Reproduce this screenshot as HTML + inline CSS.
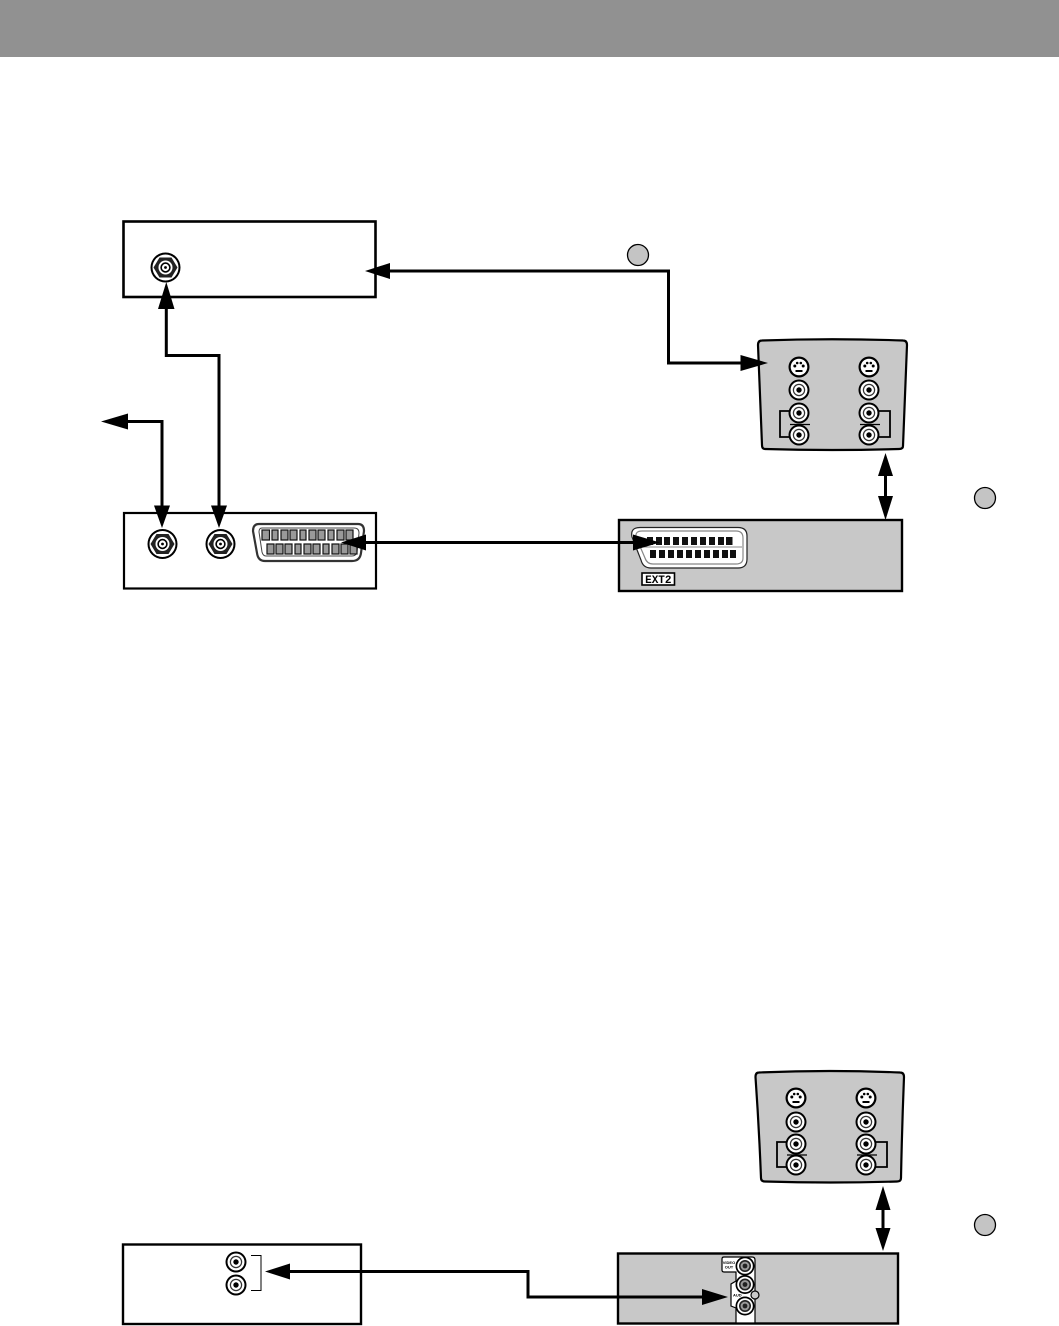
<!DOCTYPE html>
<html><head><meta charset="utf-8"><style>
html,body{margin:0;padding:0;background:#fff}
svg{display:block}
</style></head><body>
<svg width="1059" height="1326" viewBox="0 0 1059 1326" xmlns="http://www.w3.org/2000/svg">
<defs>
<g id="rca"><circle r="10.5" fill="#000"/><circle r="8.5" fill="#fff"/><circle r="6.2" fill="#333"/><circle r="5" fill="#fff"/><circle r="2.7" fill="#000"/></g>
<g id="rcag"><circle r="9.500" fill="#000"/><circle r="7.800" fill="#fff"/><circle r="6" fill="#222"/><circle r="4.400" fill="#999"/><circle r="2.400" fill="#222"/></g>
<g id="sv"><circle r="10.5" fill="#000"/><circle r="8.300" fill="#fff"/><circle cx="-4.200" cy="-1" r="1.500" fill="#000"/><circle cx="4.200" cy="-1" r="1.500" fill="#000"/><circle cx="-1.800" cy="-4" r="1.300" fill="#000"/><circle cx="1.800" cy="-4" r="1.300" fill="#000"/><rect x="-3.500" y="3" width="7" height="2" fill="#000"/></g>
<g id="coax"><circle r="15" fill="#000"/><circle r="13" fill="#fff"/><polygon points="-12,0 -6,-10 6,-10 12,0 6,10 -6,10" fill="#222"/><circle r="7" fill="#fff"/><circle r="5.2" fill="#000"/><circle r="3.6" fill="#fff"/><circle r="1.4" fill="#000"/></g>
<g id="tvjacks">
<use href="#sv" y="0"/><use href="#rca" y="23"/><use href="#rca" y="46"/><use href="#rca" y="68"/>
</g>
</defs>

<rect x="0" y="0" width="1059" height="57" fill="#919191"/>

<!-- top box -->
<rect x="123.500" y="221.500" width="252" height="75.500" fill="#fff" stroke="#000" stroke-width="2.600"/>
<use href="#coax" x="165.500" y="267.500"/>

<!-- bottom-left box -->
<rect x="124" y="513" width="252" height="75.500" fill="#fff" stroke="#000" stroke-width="2.200"/>
<use href="#coax" x="162.500" y="544"/>
<use href="#coax" x="220.500" y="544"/>
<path d="M259,524 H358 Q364,524 364,531 L361,553 Q360,561 352,561 H265 Q258,561 257,553 L253,531 Q253,524 259,524 Z" fill="#fff" stroke="#333" stroke-width="2.200"/>
<path d="M262,528 H354 Q359,528 359,533 L357,552 Q356,556 352,556 H266 Q263,556 262,552 L259,532 Q259,528 262,528 Z" fill="#fff" stroke="#444" stroke-width="1"/>
<g fill="#999" stroke="#111" stroke-width="1.200">
<rect x="262" y="530" width="7.500" height="10"/><rect x="272" y="530" width="6" height="10"/><rect x="281" y="530" width="7" height="10"/><rect x="290" y="530" width="7" height="10"/><rect x="300" y="530" width="6" height="10"/><rect x="309" y="530" width="7" height="10"/><rect x="318" y="530" width="7" height="10"/><rect x="328" y="530" width="6" height="10"/><rect x="337" y="530" width="7" height="10"/><rect x="346" y="530" width="7" height="10"/>
<rect x="267" y="544" width="7" height="10"/><rect x="276" y="544" width="7" height="10"/><rect x="285" y="544" width="7" height="10"/><rect x="295" y="544" width="6" height="10"/><rect x="304" y="544" width="7" height="10"/><rect x="313" y="544" width="7" height="10"/><rect x="323" y="544" width="6" height="10"/><rect x="332" y="544" width="7" height="10"/><rect x="341" y="544" width="7" height="10"/><rect x="350" y="544" width="7" height="10"/>
</g>

<!-- top TV panel -->
<path d="M762,340.500 Q832,338 903,340.500 Q907,340.500 907,345 Q905,395 903,446 Q903,449 899,449 Q832,451 765,449 Q762,449 762,445 Q760,395 758,345 Q758,340.500 762,340.500 Z" fill="#c8c8c8" stroke="#000" stroke-width="2.200"/>
<g fill="none" stroke="#000" stroke-width="1.800">
<path d="M790,411 H780 V437 H790"/><path d="M879,411 H890 V437 H879"/>
</g>
<path d="M790,424.500 H810 M860,424.500 H880" stroke="#000" stroke-width="1.200"/>
<use href="#tvjacks" x="799" y="367"/>
<use href="#tvjacks" x="869" y="367"/>

<!-- VCR box top right -->
<rect x="619" y="520" width="283" height="71" fill="#c8c8c8" stroke="#000" stroke-width="2.400"/>
<path d="M640,527.500 H738 Q747,527.500 747,536 V559 Q747,568 738,568 H651 Q643,568 641,560 L632,537 Q630,527.500 640,527.500 Z" fill="#fff" stroke="#222" stroke-width="1.200"/>
<path d="M642,531 H736 Q743,531 743,538 V558 Q743,564 736,564 H653 Q647,564 645,558 L636,537 Q635,531 642,531 Z" fill="none" stroke="#888" stroke-width="1.200"/>
<path d="M643,547 H742" stroke="#888" stroke-width="1"/>
<g fill="#111">
<rect x="647" y="537" width="6" height="8"/><rect x="656" y="537" width="6" height="8"/><rect x="664" y="537" width="6" height="8"/><rect x="673" y="537" width="6" height="8"/><rect x="682" y="537" width="6" height="8"/><rect x="691" y="537" width="6" height="8"/><rect x="700" y="537" width="6" height="8"/><rect x="709" y="537" width="6" height="8"/><rect x="718" y="537" width="6" height="8"/><rect x="726" y="537" width="6.500" height="8"/>
<rect x="650" y="550" width="6" height="8"/><rect x="659" y="550" width="6" height="8"/><rect x="668" y="550" width="6" height="8"/><rect x="677" y="550" width="6" height="8"/><rect x="686" y="550" width="6" height="8"/><rect x="695" y="550" width="6" height="8"/><rect x="704" y="550" width="6" height="8"/><rect x="713" y="550" width="6" height="8"/><rect x="722" y="550" width="6" height="8"/><rect x="730" y="550" width="6" height="8"/>
</g>
<rect x="642" y="573" width="32.500" height="12" fill="#fff" stroke="#000" stroke-width="1.600"/>
<text x="658.300" y="583" font-family="Liberation Mono, monospace" font-size="11" font-weight="bold" text-anchor="middle" fill="#000">EXT2</text>

<!-- top connectors -->
<g fill="none" stroke="#000" stroke-width="3">
<path d="M385,271 H668.500 V363 H745"/>
<path d="M166.300,305 V355.500 H219 V510"/>
<path d="M124,421.500 H162 V510"/>
<path d="M360,542.500 H640"/>
<path d="M885.500,470 V500"/>
</g>
<g fill="#000">
<polygon points="365,271 390,263 390,279"/>
<polygon points="768,363 740.500,355 740.500,371"/>
<polygon points="166.300,282 158,309 174.500,309"/>
<polygon points="219,528 211,505.500 227,505.500"/>
<polygon points="162,528 154,505.500 170,505.500"/>
<polygon points="101,421.500 128,413.500 128,429.500"/>
<polygon points="341,542.500 366,534.500 366,550.500"/>
<polygon points="660,542.500 633,534.500 633,550.500"/>
<polygon points="885.500,453 878,476 893,476"/>
<polygon points="885.500,520 878,496 893,496"/>
</g>

<!-- numbered markers -->
<circle cx="638" cy="255" r="10.500" fill="#c4c4c4" stroke="#000" stroke-width="1.300"/>
<circle cx="985" cy="498" r="10.500" fill="#c4c4c4" stroke="#000" stroke-width="1.300"/>
<circle cx="985" cy="1225" r="10.500" fill="#c4c4c4" stroke="#000" stroke-width="1.300"/>

<!-- bottom TV panel -->
<path d="M759,1072.500 Q830,1069.500 900,1072.500 Q904,1072.500 904,1077 Q902,1127 901,1178 Q901,1181.500 897,1181.500 Q830,1183.500 765,1181.500 Q761,1181.500 761,1178 Q759,1127 755.500,1077 Q755.500,1072.500 759,1072.500 Z" fill="#c8c8c8" stroke="#000" stroke-width="2.200"/>
<g fill="none" stroke="#000" stroke-width="1.800">
<path d="M787,1142 H777 V1167 H787"/><path d="M876,1142 H887 V1167 H876"/>
</g>
<path d="M787,1155 H807 M857,1155 H877" stroke="#000" stroke-width="1.200"/>
<g>
<use href="#sv" x="796" y="1098"/><use href="#rca" x="796" y="1122"/><use href="#rca" x="796" y="1144"/><use href="#rca" x="796" y="1165"/>
<use href="#sv" x="866" y="1098"/><use href="#rca" x="866" y="1122"/><use href="#rca" x="866" y="1144"/><use href="#rca" x="866" y="1165"/>
</g>

<!-- bottom-left box -->
<rect x="123" y="1244.500" width="238" height="79.500" fill="#fff" stroke="#000" stroke-width="2.400"/>
<use href="#rca" x="236" y="1262"/>
<use href="#rca" x="236" y="1285"/>
<path d="M251,1255.500 H261 V1290.500 H251" fill="none" stroke="#000" stroke-width="1"/>

<!-- bottom-right box -->
<rect x="618" y="1253.500" width="280" height="70" fill="#c8c8c8" stroke="#000" stroke-width="2.400"/>
<path d="M724,1257 H752 Q755,1257 755,1260 V1323 H736 V1308 L731,1306 V1284 L736,1281 V1272 H724 Q722,1272 722,1270 V1259 Q722,1257 724,1257 Z" fill="#fff" stroke="#000" stroke-width="1.200"/>
<use href="#rcag" x="745" y="1266"/>
<use href="#rcag" x="745" y="1284.500"/>
<use href="#rcag" x="745" y="1306"/>
<circle cx="755" cy="1295" r="4" fill="#c8c8c8" stroke="#000" stroke-width="1.200"/>
<text x="729" y="1264" font-family="Liberation Sans, sans-serif" font-size="4" font-weight="bold" text-anchor="middle" fill="#000">VIDEO</text>
<text x="729" y="1268.500" font-family="Liberation Sans, sans-serif" font-size="4" font-weight="bold" text-anchor="middle" fill="#000">OUT</text>
<text x="733" y="1296.500" font-family="Liberation Sans, sans-serif" font-size="4" font-weight="bold" fill="#000">AUD</text>

<!-- bottom connectors -->
<g fill="none" stroke="#000" stroke-width="3">
<path d="M285,1271.500 H528 V1297 H708"/>
<path d="M883,1205 V1232"/>
</g>
<g fill="#000">
<polygon points="265,1271.500 290,1263.500 290,1279.500"/>
<polygon points="728,1297 702,1289 702,1305"/>
<polygon points="883,1186 875.500,1210 890.500,1210"/>
<polygon points="883,1251 875.500,1228 890.500,1228"/>
</g>
</svg>
</body></html>
